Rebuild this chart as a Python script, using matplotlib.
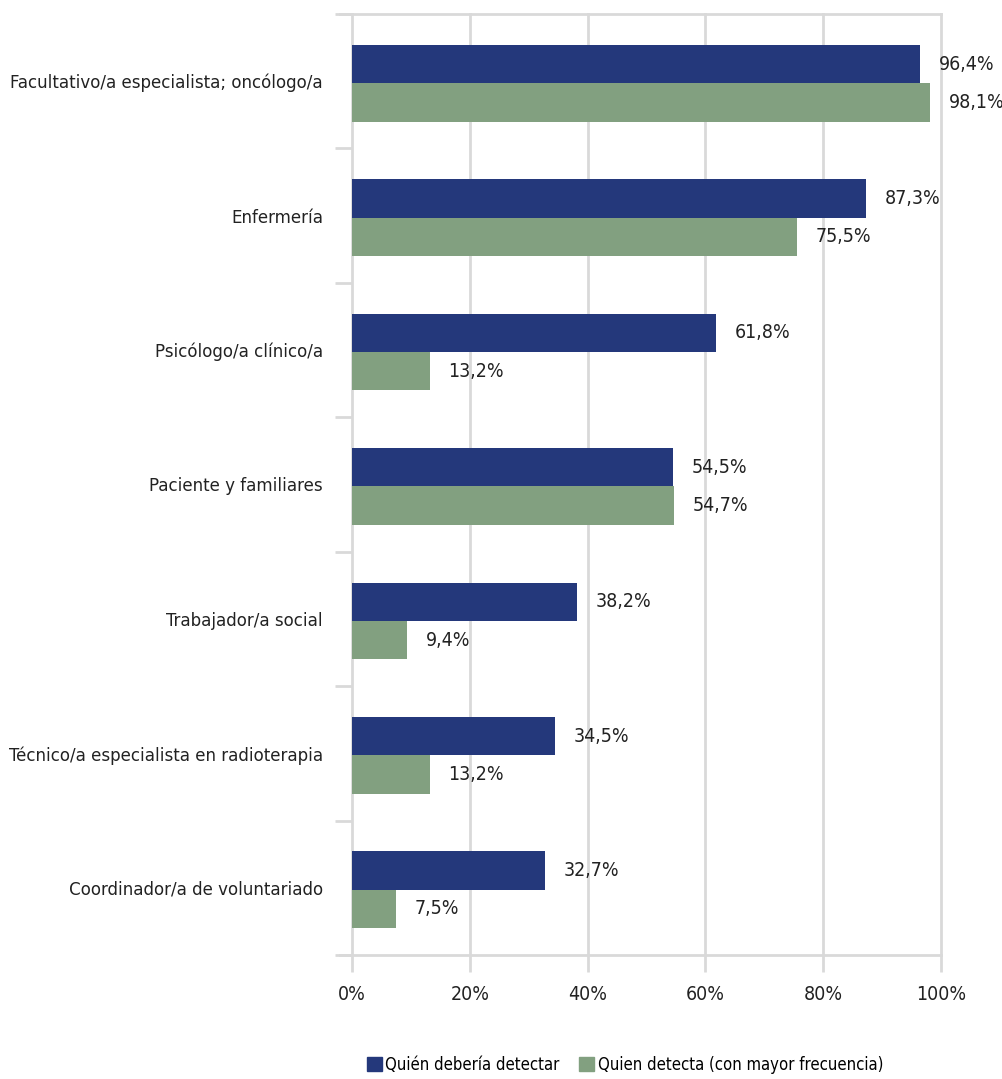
import numpy as np
import matplotlib
matplotlib.use("Agg")
import matplotlib.pyplot as plt
from matplotlib.patches import Patch

plt.rcParams['font.family'] = ['DejaVu Sans']
plt.rcParams['font.stretch'] = 'condensed'

categorias = ["Facultativo/a especialista; oncólogo/a", "Enfermería", "Psicólogo/a clínico/a",
              "Paciente y familiares", "Trabajador/a social",
              "Técnico/a especialista en radioterapia", "Coordinador/a de voluntariado"]
deberia = [96.4, 87.3, 61.8, 54.5, 38.2, 34.5, 32.7]
detecta = [98.1, 75.5, 13.2, 54.7, 9.4, 13.2, 7.5]
serie_nombres = ["Quién debería detectar", "Quien detecta (con mayor frecuencia)"]

azul = "#24387B"
verde = "#82A080"
gris = "#D9D9D9"
texto = "#222222"

fig = plt.figure(figsize=(10.03, 10.79), dpi=100)
ax = fig.add_axes([0.351, 0.115, 0.587, 0.872])

n = len(categorias)
y = np.arange(n)
h = 0.285
off = 0.015  # las barras van un poco por debajo del centro
ax.barh(y - h/2 + off, deberia, height=h, color=azul, zorder=3)
ax.barh(y + h/2 + off, detecta, height=h, color=verde, zorder=3)

for i in range(n):
    ax.text(deberia[i] + 3.2, y[i] - h/2 + off, f"{deberia[i]:.1f}%".replace(".", ","),
            va="center", ha="left", fontsize=14, color=texto)
    ax.text(detecta[i] + 3.2, y[i] + h/2 + off, f"{detecta[i]:.1f}%".replace(".", ","),
            va="center", ha="left", fontsize=14, color=texto)

ax.set_xlim(0, 100)
ax.set_ylim(n - 0.5, -0.5)
ax.set_xticks(np.arange(0, 101, 20))
ax.set_xticklabels([f"{v}%" for v in range(0, 101, 20)], fontsize=14, color=texto)
ax.grid(axis="x", color=gris, linewidth=2, zorder=0)
for l in ax.get_xgridlines():
    l.set_clip_on(False)

ax.set_yticks(np.arange(-0.5, n, 1))
ax.set_yticklabels([])
ax.set_yticks(y, minor=True)
ax.set_yticklabels(categorias, minor=True, fontsize=13.3, color=texto)
ax.tick_params(axis="y", which="minor", length=0, pad=21)
ax.tick_params(axis="y", which="major", length=12, width=2, color=gris)
ax.tick_params(axis="x", length=12, width=2, color=gris, pad=10)

for s in ["left", "right"]:
    ax.spines[s].set_visible(False)
for s in ["top", "bottom"]:
    ax.spines[s].set_color(gris)
    ax.spines[s].set_linewidth(2)
ax.plot([-2.0, 0], [-0.5, -0.5], color=gris, lw=2, clip_on=False)
ax.plot([-2.0, 0], [n - 0.5, n - 0.5], color=gris, lw=2, clip_on=False)

handles = [Patch(color=azul), Patch(color=verde)]
fig.legend(handles, serie_nombres, loc="center", bbox_to_anchor=(0.623, 0.013),
           ncol=2, frameon=False, fontsize=12, handlelength=0.9, handleheight=0.9,
           handletextpad=0.2, columnspacing=1.2)

fig.savefig("out.png", dpi=100)
